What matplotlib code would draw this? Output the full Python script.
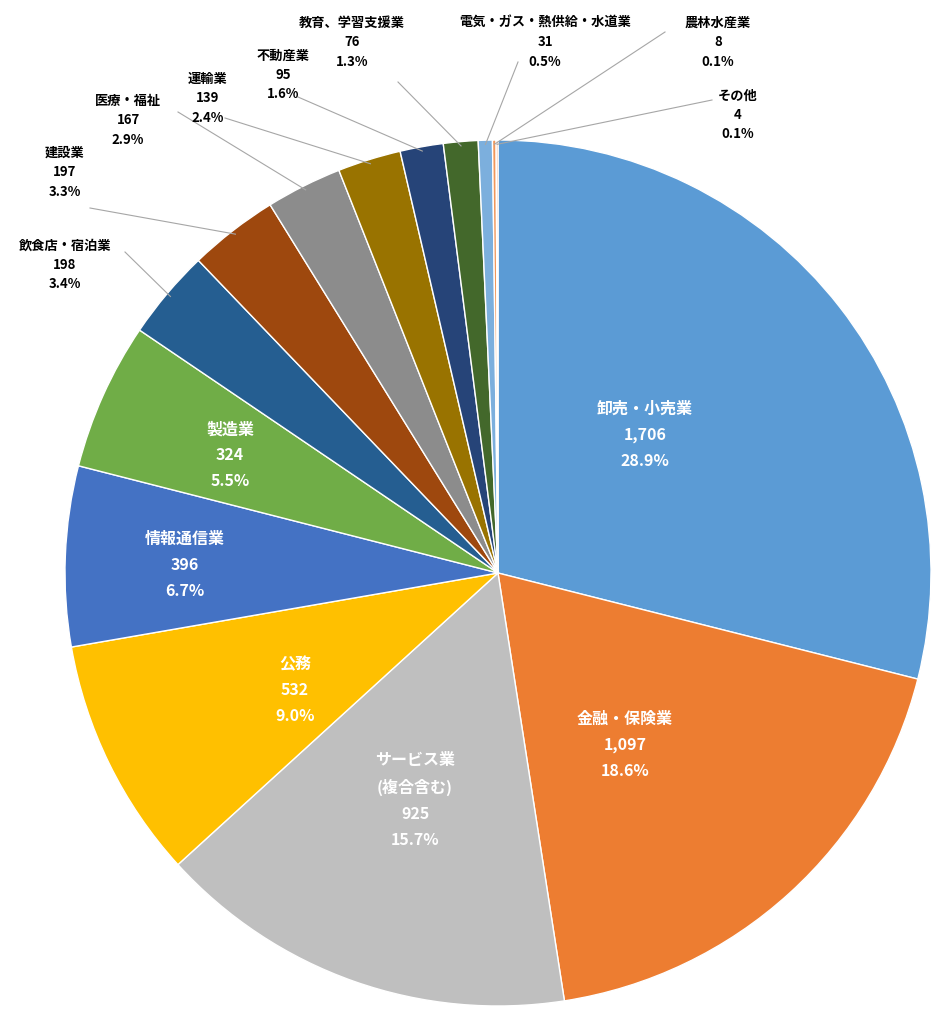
import matplotlib
matplotlib.use("Agg")
import matplotlib.pyplot as plt
import numpy as np

plt.rcParams['font.family'] = ['Noto Sans CJK JP', 'DejaVu Sans']

categories = ["卸売・小売業", "金融・保険業", "サービス業\n(複合含む)", "公務", "情報通信業", "製造業",
              "飲食店・宿泊業", "建設業", "医療・福祉", "運輸業", "不動産業", "教育、学習支援業",
              "電気・ガス・熱供給・水道業", "農林水産業", "その他"]
values = [1706, 1097, 925, 532, 396, 324, 198, 197, 167, 139, 95, 76, 31, 8, 4]
pcts = ["28.9%", "18.6%", "15.7%", "9.0%", "6.7%", "5.5%", "3.4%", "3.3%", "2.9%", "2.4%",
        "1.6%", "1.3%", "0.5%", "0.1%", "0.1%"]
colors = ["#5B9BD5", "#ED7D31", "#BFBFBF", "#FFC000", "#4472C4", "#70AD47", "#255E91",
          "#9E480E", "#8C8C8C", "#997300", "#264478", "#43682B", "#7CAFDD", "#F1975A", "#F4A070"]

W, H = 946, 1024
cx, cy, R = 498, 573, 433
fig = plt.figure(figsize=(W/100, H/100), dpi=100)
ax = fig.add_axes([(cx-R)/W, 1-(cy+R)/H, 2*R/W, 2*R/H])

wedges, _ = ax.pie(values, colors=colors, startangle=90, counterclock=False, radius=1,
                   wedgeprops=dict(edgecolor='white', linewidth=1))
ax.set_aspect('auto')
ax.set_xlim(-1, 1); ax.set_ylim(-1, 1); ax.axis('off')

def d(px, py):
    return ((px-cx)/R, (cy-py)/R)

inside = {0: (645, 435), 1: (625, 745), 2: (415, 800), 3: (295, 690), 4: (185, 565), 5: (230, 455)}
outside = {6: ((65, 265), (125, 252)), 7: ((65, 172), (90, 208)), 8: ((128, 120), (178, 112)),
           9: ((208, 98), (225, 118)), 10: ((283, 75), (298, 97)), 11: ((352, 42), (398, 82)),
           12: ((545, 42), (518, 62)), 13: ((718, 42), (665, 32)), 14: ((738, 115), (712, 100))}

for i, w in enumerate(wedges):
    txt = f"{categories[i]}\n{values[i]:,}\n{pcts[i]}"
    if i in inside:
        x, y = d(*inside[i])
        ax.text(x, y, txt, ha='center', va='center', color='white', fontsize=11.5,
                fontweight='bold', linespacing=1.75)
    else:
        (lx, ly), (sx, sy) = outside[i]
        x, y = d(lx, ly)
        ax.text(x, y, txt, ha='center', va='center', color='black', fontsize=9.5,
                fontweight='bold', linespacing=1.5, clip_on=False)
        ang = np.deg2rad((w.theta1 + w.theta2) / 2)
        ex, ey = np.cos(ang) * 0.99, np.sin(ang) * 0.99
        x0, y0 = d(sx, sy)
        ax.plot([x0, ex], [y0, ey], color='#A6A6A6', lw=0.8, clip_on=False)

fig.savefig("out.png", dpi=100, facecolor='white')
